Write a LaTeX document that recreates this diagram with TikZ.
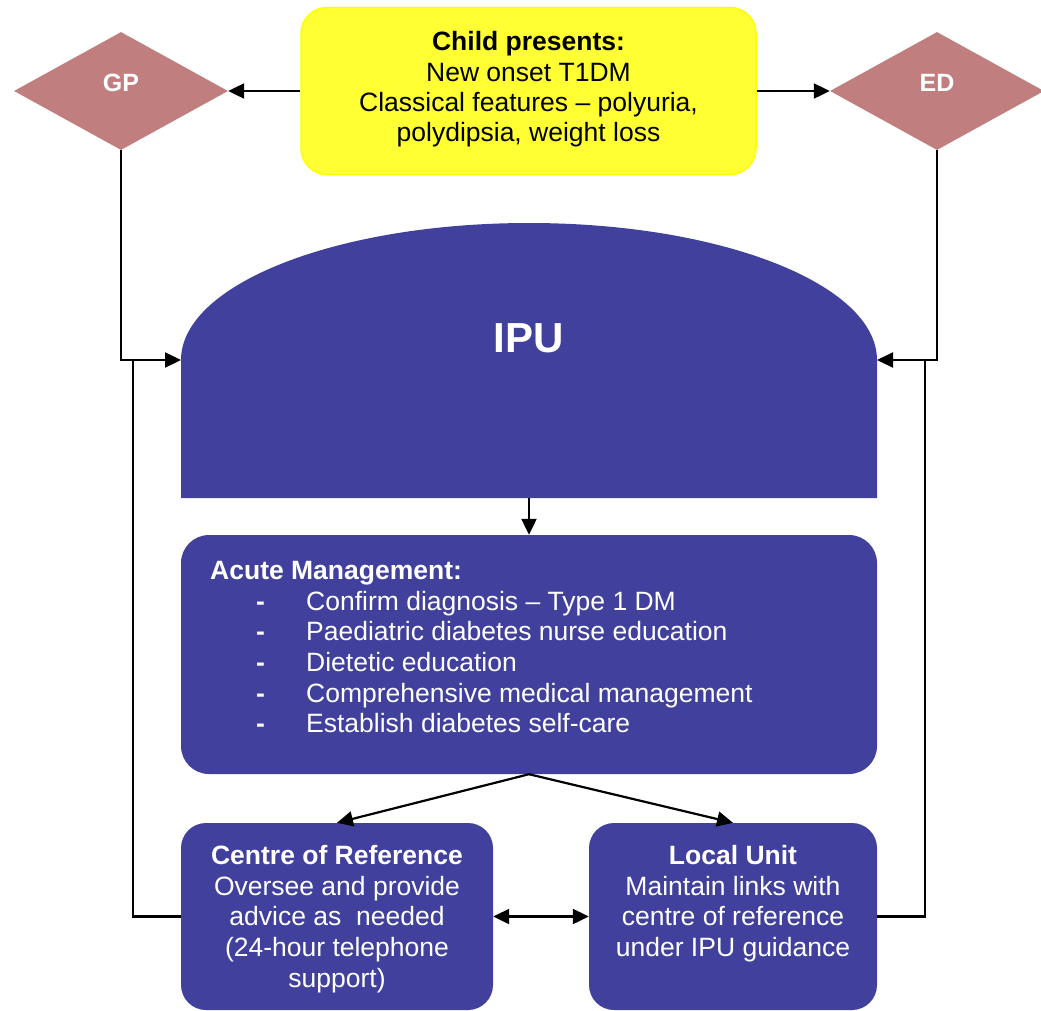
\documentclass[tikz,border=0pt]{standalone}
\usepackage{fontspec}
\setmainfont{Liberation Sans}
\usetikzlibrary{shapes.geometric,arrows.meta}
\definecolor{ipublue}{RGB}{65,65,157}
\definecolor{diam}{RGB}{192,127,126}
\definecolor{yfill}{RGB}{255,255,51}
\definecolor{ydraw}{RGB}{255,255,0}
\begin{document}
\begin{tikzpicture}[x=1pt,y=-1pt,
  conn/.style={line width=2.2pt},
  arr/.style={conn,-{Triangle[length=16pt,width=15pt]}},
  darr/.style={conn,{Triangle[length=16pt,width=15pt]}-{Triangle[length=16pt,width=15pt]}},
  bluebox/.style={fill=ipublue, draw=none, rounded corners=28pt, inner sep=0pt},
  diamondnode/.style={diamond, fill=diam, inner sep=0pt, minimum width=214pt, minimum height=118pt, text=white, font=\fontsize{25}{30}\selectfont\bfseries, text depth=16pt},
  bodytext/.style={text=white, font=\fontsize{26.5}{30.7}\selectfont, inner sep=0pt},
  childbox/.style={draw=ydraw, fill=yfill, line width=1.5pt, rounded corners=26pt, minimum width=455pt, minimum height=167pt, inner sep=0pt},
]
\useasboundingbox (0,0) rectangle (1041,1010);
\clip (0,0) rectangle (1041,1010);

% top row
\node[childbox] (child) at (528.5,91) {};
\node[font=\fontsize{26.5}{30.3}\selectfont, align=center, inner sep=0pt] (childtext) at (528.5,89.5) {\textbf{Child presents:}\\New onset T1DM\\Classical features – polyuria,\\polydipsia, weight loss};
\node[diamondnode] (gp) at (121,91) {GP};
\node[diamondnode] (ed) at (937,91) {ED};

% IPU dome
\fill[ipublue] (181,498) -- (181,360) arc[start angle=180, end angle=0, x radius=348pt, y radius=137pt] -- (877,498) -- cycle;
\node[text=white, font=\fontsize{42}{50}\selectfont\bfseries, inner sep=0pt] (ipu) at (529,338) {IPU};
\coordinate (ipuL) at (181,360);
\coordinate (ipuR) at (877,360);
\coordinate (ipuB) at (529,498);
\coordinate (jl) at (133,360);
\coordinate (jr) at (925,360);

% acute management
\node[bluebox, minimum width=696pt, minimum height=239pt] (acute) at (529,654.5) {};
\node[bodytext, anchor=north west, align=left] (acutetxt) at (210,561) {\textbf{Acute Management:}\\
\hspace*{46pt}\makebox[50pt][l]{\textbf{-}}Confirm diagnosis – Type 1 DM\\
\hspace*{46pt}\makebox[50pt][l]{\textbf{-}}Paediatric diabetes nurse education\\
\hspace*{46pt}\makebox[50pt][l]{\textbf{-}}Dietetic education\\
\hspace*{46pt}\makebox[50pt][l]{\textbf{-}}Comprehensive medical management\\
\hspace*{46pt}\makebox[50pt][l]{\textbf{-}}Establish diabetes self-care};

% bottom boxes
\node[bluebox, rounded corners=25pt, minimum width=312pt, minimum height=187pt] (cor) at (337,916.5) {};
\node[bodytext, anchor=north, align=center] (cortext) at (337,845) {\textbf{Centre of Reference}\\Oversee and provide\\advice as~~needed\\(24-hour telephone\\support)};
\node[bluebox, rounded corners=25pt, minimum width=288pt, minimum height=187pt] (lu) at (733,916.5) {};
\node[bodytext, anchor=north, align=center] (lutext) at (733,845) {\textbf{Local Unit}\\Maintain links with\\centre of reference\\under IPU guidance};

% connectors
\draw[arr] (child.west) -- (gp.east);
\draw[arr] (child.east) -- (ed.west);
\draw[arr] (gp.south) |- (ipuL);
\draw[arr] (ed.south) |- (ipuR);
\draw[conn] (cor.west) -| (jl);
\draw[conn] (lu.east) -| (jr);
\draw[arr] (ipuB) -- (acute.north);
\draw[arr] (acute.south) -- (cor.north);
\draw[arr] (acute.south) -- (lu.north);
\draw[darr] (cor.east) -- (lu.west);
\end{tikzpicture}
\end{document}
